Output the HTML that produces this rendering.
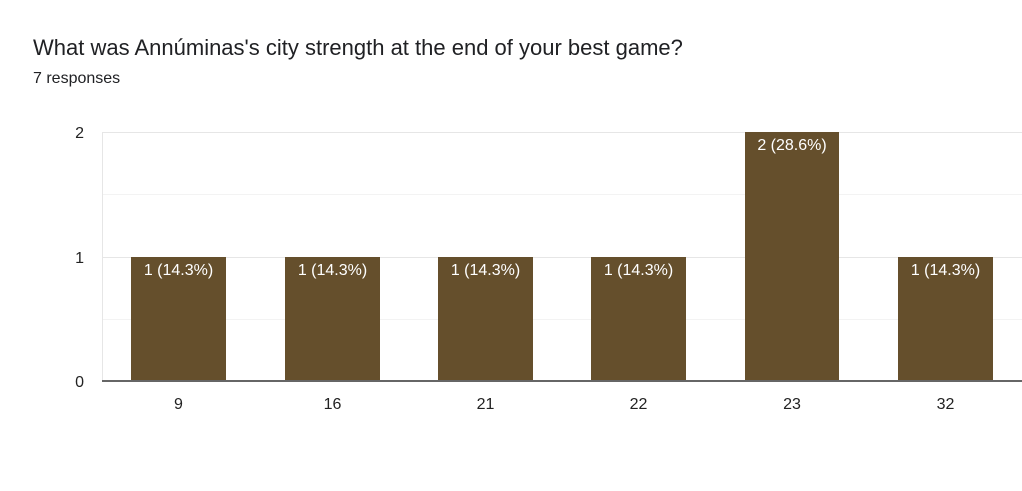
<!DOCTYPE html>
<html><head><style>body{margin:0;background:#fff;width:1022px;height:486px;overflow:hidden}</style></head><body>
<svg width="1022" height="486" xmlns="http://www.w3.org/2000/svg" font-family="Liberation Sans, Arial, sans-serif">
<text x="33" y="55" font-size="22" fill="#202124">What was Annúminas's city strength at the end of your best game?</text>
<text x="33" y="83" font-size="16" fill="#202124">7 responses</text>
<g stroke="#f3f3f3" stroke-width="1">
<line x1="102" y1="194.5" x2="1022" y2="194.5"/>
<line x1="102" y1="319.5" x2="1022" y2="319.5"/>
</g>
<g stroke="#e6e6e6" stroke-width="1">
<line x1="102" y1="132.5" x2="1022" y2="132.5"/>
<line x1="102" y1="257.5" x2="1022" y2="257.5"/>
<line x1="102.5" y1="132" x2="102.5" y2="381"/>
</g>
<g fill="#654f2c">
<rect x="131" y="257" width="95" height="124"/>
<rect x="285" y="257" width="95" height="124"/>
<rect x="438" y="257" width="95" height="124"/>
<rect x="591" y="257" width="95" height="124"/>
<rect x="745" y="132" width="94" height="249"/>
<rect x="898" y="257" width="95" height="124"/>
</g>
<line x1="102" y1="381" x2="1022" y2="381" stroke="#666" stroke-width="2"/>
<g font-size="16" fill="#fff" text-anchor="middle">
<text x="178.5" y="275">1 (14.3%)</text>
<text x="332.5" y="275">1 (14.3%)</text>
<text x="485.5" y="275">1 (14.3%)</text>
<text x="638.5" y="275">1 (14.3%)</text>
<text x="792" y="150">2 (28.6%)</text>
<text x="945.5" y="275">1 (14.3%)</text>
</g>
<g font-size="16" fill="#222" text-anchor="end">
<text x="84" y="138">2</text>
<text x="84" y="263">1</text>
<text x="84" y="387">0</text>
</g>
<g font-size="16" fill="#222" text-anchor="middle">
<text x="178.5" y="409">9</text>
<text x="332.5" y="409">16</text>
<text x="485.5" y="409">21</text>
<text x="638.5" y="409">22</text>
<text x="792" y="409">23</text>
<text x="945.5" y="409">32</text>
</g>
</svg>
</body></html>
